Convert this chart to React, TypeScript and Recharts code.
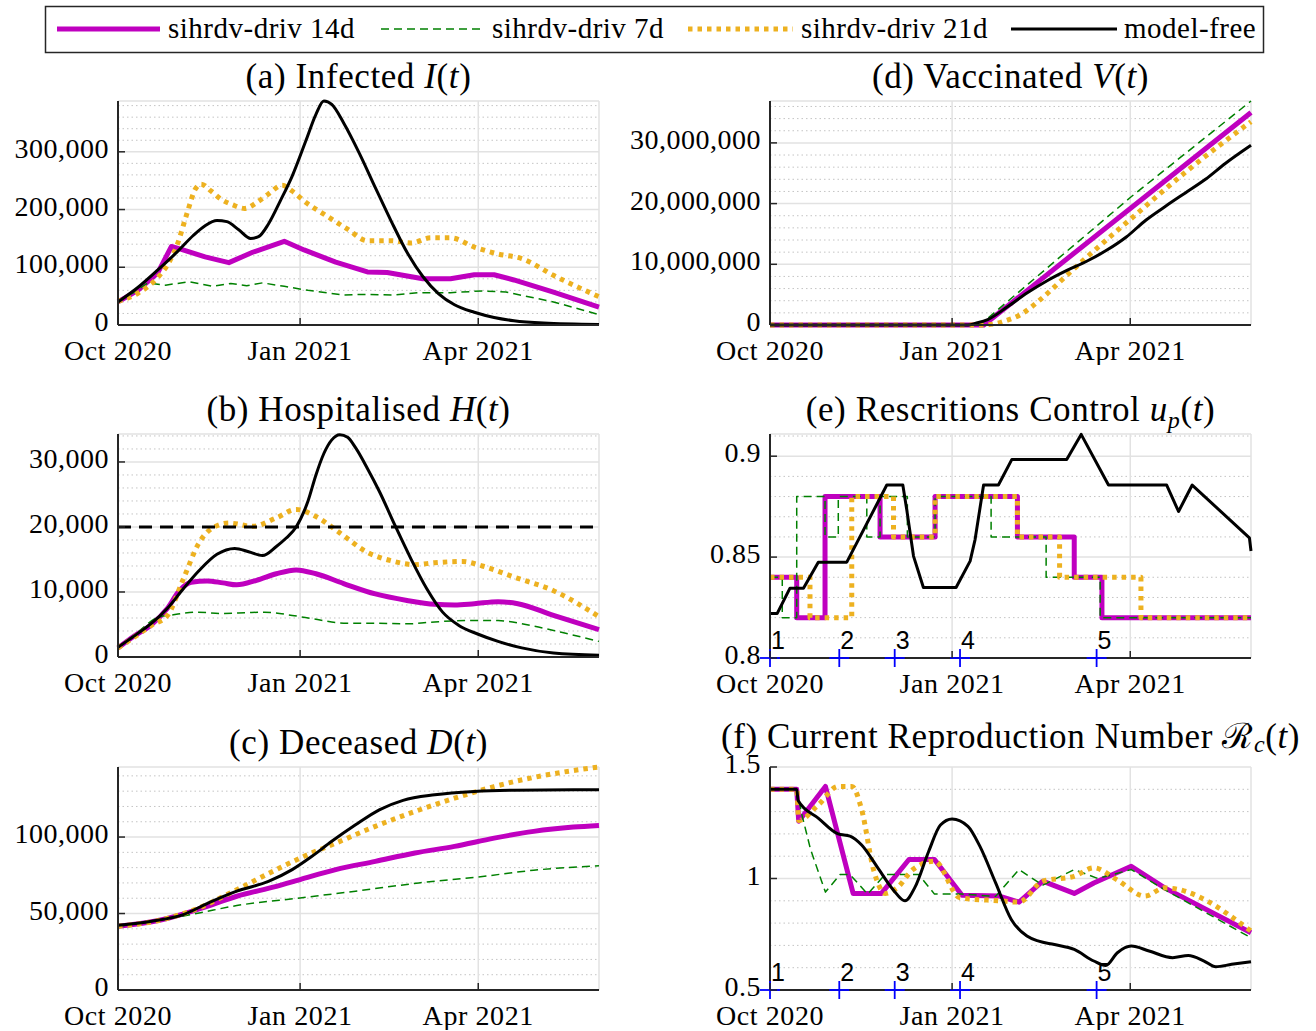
import React from 'react';
import { LineChart, Line, XAxis, YAxis, CartesianGrid, ReferenceLine, ReferenceDot } from 'recharts';

const FONT = "'Liberation Serif', 'Times New Roman', serif";
const SANS = "'Liberation Sans', Arial, sans-serif";
const AXIS = '#262626';

// ---------- shared axis data ----------
const xTickDays = [0, 92, 182];
const xTickLabels = ['Oct 2020', 'Jan 2021', 'Apr 2021'];
const xEndDay = 243;

const legendLabels = ['sihrdv-driv 14d', 'sihrdv-driv 7d', 'sihrdv-driv 21d', 'model-free'];

// ---------- (a) Infected ----------
const infDaysK = [0, 10, 20, 30, 38, 44, 50, 55, 61, 67, 71, 76, 82, 88, 95, 100, 104, 108, 114, 122, 130, 138, 146, 154, 162, 170, 180, 190, 200, 215, 243];
const infK = [40000, 65000, 95000, 127000, 155000, 172000, 181000, 179000, 165000, 150000, 153000, 175000, 215000, 258000, 320000, 365000, 388000, 382000, 350000, 297000, 238000, 180000, 126000, 84000, 54000, 35000, 22000, 13000, 7500, 3500, 1000];
const infDaysM = [0, 10, 20, 27, 32, 44, 56, 68, 84, 94, 110, 126, 136, 154, 168, 180, 190, 200, 220, 243];
const infM = [40000, 60000, 90000, 136000, 131000, 118000, 108000, 126000, 145000, 130000, 109000, 92000, 91000, 80000, 80000, 87000, 87000, 78000, 57000, 31000];
const infDaysO = [0, 10, 20, 26, 30, 35, 39, 42, 47, 52, 58, 64, 70, 76, 83, 88, 95, 104, 116, 126, 138, 148, 158, 168, 180, 192, 204, 220, 243];
const infO = [41000, 55000, 82000, 110000, 140000, 195000, 235000, 244000, 232000, 218000, 208000, 202000, 212000, 227000, 242000, 232000, 212000, 192000, 166000, 146000, 146000, 142000, 151000, 151000, 135000, 123000, 115000, 86000, 49000];
const infDaysG = [0, 8, 15, 24, 36, 48, 57, 65, 73, 84, 96, 114, 124, 140, 152, 168, 184, 196, 220, 243];
const infG = [42000, 56000, 73000, 69000, 75000, 67000, 72000, 68000, 73000, 67000, 60000, 52000, 53000, 52000, 56000, 56000, 59000, 57000, 40000, 18000];
const infTicks = [0, 100000, 200000, 300000];

// ---------- (b) Hospitalised ----------
const hosDaysK = [0, 9, 17, 25, 33, 41, 50, 59, 66, 73, 80, 85, 90, 96, 100, 104, 108, 112, 116, 120, 126, 132, 140, 148, 156, 164, 172, 182, 192, 204, 220, 243];
const hosK = [1500, 3400, 5200, 7500, 10500, 13300, 15800, 16700, 16200, 15600, 17000, 18300, 20000, 24000, 28000, 31300, 33400, 34200, 33800, 32200, 29000, 25500, 20200, 15100, 10500, 6900, 4900, 3500, 2400, 1400, 600, 250];
const hosDaysM = [0, 8, 17, 25, 31, 37, 45, 53, 60, 70, 80, 90, 100, 114, 130, 146, 160, 170, 180, 192, 202, 220, 243];
const hosM = [1400, 3200, 5000, 7500, 10200, 11500, 11700, 11400, 11100, 11800, 12800, 13400, 12800, 11300, 9700, 8700, 8100, 8000, 8200, 8500, 8200, 6400, 4200];
const hosDaysO = [0, 8, 17, 25, 33, 41, 48, 56, 68, 80, 90, 100, 112, 126, 138, 150, 160, 174, 184, 200, 220, 243];
const hosO = [1400, 3000, 4900, 6400, 12000, 17600, 19900, 20600, 20100, 21400, 22700, 21600, 19100, 16100, 14800, 14200, 14500, 14700, 14000, 12300, 10200, 6200];
const hosDaysG = [0, 10, 20, 28, 40, 52, 64, 74, 88, 100, 114, 130, 146, 160, 176, 192, 206, 224, 243];
const hosG = [1400, 3800, 6100, 6500, 6900, 6700, 6800, 6900, 6400, 5800, 5200, 5200, 5100, 5400, 5600, 5600, 5000, 3800, 2400];
const hosTicks = [0, 10000, 20000, 30000];
const hosCapacity = 20000;

// ---------- (c) Deceased ----------
const decDaysK = [0, 17, 33, 45, 60, 76, 88, 98, 108, 120, 132, 144, 160, 180, 200, 243];
const decK = [42400, 45000, 49300, 56500, 64600, 71000, 78700, 87400, 97200, 108000, 117800, 124000, 127600, 129800, 130600, 131000];
const decDaysO = [0, 21, 41, 60, 80, 94, 110, 130, 150, 170, 190, 210, 230, 243];
const decO = [41700, 45600, 53700, 65600, 78700, 87400, 96000, 107000, 116700, 125400, 133000, 139000, 143500, 145800];
const decDaysM = [0, 21, 41, 60, 80, 92, 110, 130, 150, 170, 190, 210, 230, 243];
const decM = [41700, 45600, 53000, 61300, 67800, 72200, 78700, 84100, 89600, 93900, 99300, 103700, 106500, 107600];
const decDaysG = [0, 21, 41, 60, 92, 120, 152, 182, 210, 243];
const decG = [41700, 45600, 50400, 55200, 60200, 64600, 70000, 73900, 78300, 81300];
const decTicks = [0, 50000, 100000];

// ---------- (d) Vaccinated ----------
const vacDaysK = [0, 100, 104, 110, 120, 130, 140, 150, 160, 170, 180, 190, 200, 210, 220, 230, 243];
const vacK = [0, 0, 300000, 900000, 3000000, 5300000, 7300000, 9000000, 10500000, 12300000, 14500000, 17300000, 19600000, 21800000, 24000000, 26600000, 29600000];
const vacDaysM = [0, 108, 243];
const vacM = [0, 0, 35000000];
const vacDaysG = [0, 106, 182, 243];
const vacG = [0, 0, 21000000, 36900000];
const vacDaysO = [0, 108, 115, 120, 126, 137, 150, 165, 182, 210, 243];
const vacO = [0, 0, 300000, 800000, 1600000, 4300000, 8200000, 12600000, 17400000, 25200000, 33500000];
const vacTicks = [0, 10000000, 20000000, 30000000];

// ---------- (e) Restrictions control ----------
const upDaysM = [0, 13.5, 27.8, 55.6, 83.4, 125, 153.7, 167.7, 243];
const upM = [0.84, 0.82, 0.88, 0.86, 0.88, 0.86, 0.84, 0.82, 0.82];
const upDaysO = [0, 20.2, 41.3, 62.4, 83.4, 125, 146.3, 187.4, 243];
const upO = [0.84, 0.82, 0.88, 0.86, 0.88, 0.86, 0.84, 0.82, 0.82];
const upDaysG = [0, 6.2, 13.5, 27.8, 34.5, 48.9, 55.6, 69.4, 83.4, 111.7, 139.5, 166.8, 243];
const upG = [0.84, 0.82, 0.88, 0.86, 0.88, 0.86, 0.88, 0.86, 0.88, 0.86, 0.84, 0.82, 0.82];
const upDaysK = [0, 3.6, 10.1, 16.9, 24.4, 38.8, 59, 67.1, 69.1, 72.5, 77.5, 94, 101.1, 103.6, 107.9, 115.4, 122.2, 149.9, 157.2, 171, 200.4, 206.4, 213.3, 242.2, 243];
const upK = [0.822, 0.822, 0.8346, 0.8346, 0.8475, 0.8475, 0.8857, 0.8857, 0.8734, 0.8505, 0.8349, 0.8349, 0.848, 0.8587, 0.8857, 0.8857, 0.8984, 0.8984, 0.9108, 0.8857, 0.8857, 0.8726, 0.8857, 0.8595, 0.853];
const upTicks = [0.8, 0.85, 0.9];

// ---------- (f) Reproduction number ----------
const rcDaysK = [0, 13.5, 14.2, 24.5, 34.4, 40.4, 46.3, 54.3, 62.2, 68.2, 73.2, 80.1, 86.1, 92, 100, 106, 114, 121.9, 129.8, 135.8, 143.7, 153.7, 163.6, 169.6, 175.5, 182.5, 191.5, 203.4, 211.3, 219.3, 225.2, 233.2, 243];
const rcK = [1.4, 1.4, 1.35, 1.27, 1.2, 1.19, 1.15, 1.05, 0.95, 0.9, 0.96, 1.12, 1.24, 1.267, 1.234, 1.145, 0.98, 0.816, 0.742, 0.719, 0.704, 0.682, 0.63, 0.61, 0.667, 0.697, 0.675, 0.645, 0.655, 0.63, 0.604, 0.615, 0.627];
const rcDaysM = [0, 13.5, 14.5, 28, 42, 56.3, 70.2, 83.1, 97, 115.9, 125.8, 137.8, 153.7, 163.6, 182.5, 199.4, 243];
const rcM = [1.4, 1.4, 1.257, 1.413, 0.933, 0.933, 1.085, 1.085, 0.925, 0.921, 0.894, 0.988, 0.933, 0.98, 1.055, 0.958, 0.757];
const rcDaysO = [0, 13.5, 14.5, 24.5, 34.4, 41.4, 46.3, 52.3, 58.2, 64.2, 72.2, 83.1, 96, 115.9, 125.8, 137.8, 153.7, 163.6, 175.5, 189.4, 199.4, 243];
const rcO = [1.4, 1.4, 1.26, 1.331, 1.413, 1.413, 1.309, 1.04, 0.933, 0.958, 1.04, 1.078, 0.913, 0.9, 0.894, 0.988, 1.01, 1.048, 0.993, 0.921, 0.958, 0.764];
const rcDaysG = [0, 13.5, 16, 20.5, 28, 35.4, 40.4, 49.3, 58.2, 75.1, 83.1, 97, 114, 125.8, 137.8, 153.7, 165.6, 182.5, 199.4, 243];
const rcG = [1.4, 1.4, 1.29, 1.13, 0.939, 1.018, 1.018, 0.93, 1.018, 1.018, 0.93, 0.93, 0.92, 1.04, 0.97, 1.04, 1.0, 1.04, 0.95, 0.734];
const rcTicks = [0.5, 1, 1.5];

// ---------- intervention markers ----------
const markerDays = [0, 35, 63, 96, 165];
const markerLabels = ['1', '2', '3', '4', '5'];

// ---------- helpers ----------
const zip = (days: number[], vals: number[]) => days.map((d, i) => ({ x: d, y: vals[i] }));

const STYLES: any = {
  m: { stroke: '#bf00bf', strokeWidth: 5 },
  g: { stroke: '#008000', strokeWidth: 1.5, strokeDasharray: '8 5' },
  o: { stroke: '#edb120', strokeWidth: 5, strokeDasharray: '4.5 5' },
  k: { stroke: '#000000', strokeWidth: 3 },
};

const comma = (v: number) => v.toLocaleString('en-US');
const plain = (v: number) => String(v);

const renderXTick = (p: any) => {
  const { x, y, payload } = p;
  const idx = xTickDays.indexOf(payload.value);
  const axisY = y - 14;
  return (
    <g>
      <line x1={x} x2={x} y1={axisY} y2={axisY - 7} stroke={AXIS} strokeWidth={1.5} />
      <text x={x} y={axisY + 35} textAnchor="middle" fontFamily={FONT} fontSize={28} letterSpacing={0.6} fill="#000">
        {idx >= 0 ? xTickLabels[idx] : ''}
      </text>
    </g>
  );
};

const makeYTick = (fmt: (v: number) => string) => (p: any) => {
  const { x, y, payload } = p;
  const axisX = x + 9;
  return (
    <g>
      <line x1={axisX} x2={axisX + 7} y1={y} y2={y} stroke={AXIS} strokeWidth={1.5} />
      <text x={x} y={y + 6} textAnchor="end" fontFamily={FONT} fontSize={28} letterSpacing={0.5} fill="#000">
        {fmt(payload.value)}
      </text>
    </g>
  );
};

const TOPPAD = 20;

function Panel(props: any) {
  const { left, width, mLeft, mRight, yWidth, plotTop, plotBottom, domain, ticks, minorStep, fmt, series, children } = props;
  const top = plotTop - TOPPAD;
  const height = plotBottom - plotTop + TOPPAD + 40;
  const minors: number[] = [];
  const n = Math.floor((domain[1] - domain[0]) / minorStep + 1e-6);
  for (let i = 1; i <= n; i++) {
    const v = +(domain[0] + i * minorStep).toFixed(6);
    if (!ticks.some((t: number) => Math.abs(t - v) < minorStep * 0.01)) minors.push(v);
  }
  return (
    <div style={{ position: 'absolute', left, top, width, height }}>
      <LineChart width={width} height={height} margin={{ top: TOPPAD, right: mRight, bottom: 0, left: mLeft }}>
        <CartesianGrid vertical={false} horizontalValues={minors} stroke="#c4c4c4" strokeDasharray="1.5 3" />
        <CartesianGrid stroke="#e2e2e2" strokeWidth={1.5} />
        <XAxis
          type="number"
          dataKey="x"
          domain={[0, xEndDay]}
          ticks={xTickDays}
          interval={0}
          height={40}
          tickSize={0}
          tickMargin={14}
          tickLine={false}
          axisLine={{ stroke: AXIS, strokeWidth: 2 }}
          tick={renderXTick}
        />
        <YAxis
          type="number"
          dataKey="y"
          domain={domain}
          ticks={ticks}
          interval={0}
          width={yWidth}
          tickSize={0}
          tickMargin={9}
          tickLine={false}
          axisLine={{ stroke: AXIS, strokeWidth: 2 }}
          tick={makeYTick(fmt)}
        />
        {series.map((s: any, i: number) => (
          <Line
            key={i}
            data={s.data}
            dataKey="y"
            type={s.type}
            dot={false}
            activeDot={false}
            isAnimationActive={false}
            strokeLinejoin="round"
            {...STYLES[s.kind]}
          />
        ))}
        {children}
      </LineChart>
    </div>
  );
}

const markers = (baseY: number) =>
  markerDays.map((d, i) => (
    <ReferenceDot
      key={'mk' + i}
      x={d}
      y={baseY}
      r={0}
      ifOverflow="visible"
      shape={(p: any) => (
        <g>
          <line x1={p.cx - 10} x2={p.cx + 10} y1={p.cy} y2={p.cy} stroke="#0000ff" strokeWidth={1.8} />
          <line x1={p.cx} x2={p.cx} y1={p.cy - 9} y2={p.cy + 9} stroke="#0000ff" strokeWidth={1.8} />
          <text x={p.cx + 1} y={p.cy - 9} fontFamily={SANS} fontSize={25} fill="#000">
            {markerLabels[i]}
          </text>
        </g>
      )}
    />
  ));

const LEFT = { left: 0, width: 620, mLeft: 8, yWidth: 110, mRight: 21 };
const RIGHT = { left: 600, width: 670, mLeft: 10, yWidth: 160, mRight: 19 };

export default function App() {
  const titleStyle: any = { fontFamily: FONT, fontSize: 35, letterSpacing: 0.6, fill: '#000' };
  const it = (s: string) => <tspan fontStyle="italic">{s}</tspan>;
  return (
    <div style={{ position: 'absolute', left: 0, top: 0, width: 1316, height: 1031, background: '#fff', overflow: 'hidden' }}>
      {/* (a) */}
      <Panel
        {...LEFT}
        plotTop={101}
        plotBottom={325}
        domain={[0, 388000]}
        ticks={infTicks}
        minorStep={20000}
        fmt={comma}
        series={[
          { data: zip(infDaysM, infM), kind: 'm', type: 'linear' },
          { data: zip(infDaysG, infG), kind: 'g', type: 'linear' },
          { data: zip(infDaysO, infO), kind: 'o', type: 'monotone' },
          { data: zip(infDaysK, infK), kind: 'k', type: 'monotone' },
        ]}
      />
      {/* (b) */}
      <Panel
        {...LEFT}
        plotTop={434}
        plotBottom={657}
        domain={[0, 34300]}
        ticks={hosTicks}
        minorStep={2000}
        fmt={comma}
        series={[
          { data: zip(hosDaysM, hosM), kind: 'm', type: 'monotone' },
          { data: zip(hosDaysG, hosG), kind: 'g', type: 'monotone' },
          { data: zip(hosDaysO, hosO), kind: 'o', type: 'monotone' },
          { data: zip(hosDaysK, hosK), kind: 'k', type: 'monotone' },
        ]}
      >
        <ReferenceLine y={hosCapacity} stroke="#000" strokeWidth={3} strokeDasharray="13 8" />
      </Panel>
      {/* (c) */}
      <Panel
        {...LEFT}
        plotTop={767}
        plotBottom={990}
        domain={[0, 145800]}
        ticks={decTicks}
        minorStep={10000}
        fmt={comma}
        series={[
          { data: zip(decDaysM, decM), kind: 'm', type: 'monotone' },
          { data: zip(decDaysG, decG), kind: 'g', type: 'monotone' },
          { data: zip(decDaysO, decO), kind: 'o', type: 'monotone' },
          { data: zip(decDaysK, decK), kind: 'k', type: 'monotone' },
        ]}
      />
      {/* (d) */}
      <Panel
        {...RIGHT}
        plotTop={101}
        plotBottom={325}
        domain={[0, 36900000]}
        ticks={vacTicks}
        minorStep={2000000}
        fmt={comma}
        series={[
          { data: zip(vacDaysM, vacM), kind: 'm', type: 'linear' },
          { data: zip(vacDaysG, vacG), kind: 'g', type: 'linear' },
          { data: zip(vacDaysO, vacO), kind: 'o', type: 'monotone' },
          { data: zip(vacDaysK, vacK), kind: 'k', type: 'monotone' },
        ]}
      />
      {/* (e) */}
      <Panel
        {...RIGHT}
        plotTop={434}
        plotBottom={658}
        domain={[0.8, 0.911]}
        ticks={upTicks}
        minorStep={0.01}
        fmt={plain}
        series={[
          { data: zip(upDaysM, upM), kind: 'm', type: 'stepAfter' },
          { data: zip(upDaysG, upG), kind: 'g', type: 'stepAfter' },
          { data: zip(upDaysO, upO), kind: 'o', type: 'stepAfter' },
          { data: zip(upDaysK, upK), kind: 'k', type: 'linear' },
        ]}
      >
        {markers(0.8)}
      </Panel>
      {/* (f) */}
      <Panel
        {...RIGHT}
        plotTop={767}
        plotBottom={990}
        domain={[0.5, 1.5]}
        ticks={rcTicks}
        minorStep={0.1}
        fmt={plain}
        series={[
          { data: zip(rcDaysM, rcM), kind: 'm', type: 'linear' },
          { data: zip(rcDaysG, rcG), kind: 'g', type: 'linear' },
          { data: zip(rcDaysO, rcO), kind: 'o', type: 'monotone' },
          { data: zip(rcDaysK, rcK), kind: 'k', type: 'monotone' },
        ]}
      >
        {markers(0.5)}
      </Panel>

      {/* legend and titles */}
      <svg width={1316} height={1031} style={{ position: 'absolute', left: 0, top: 0, pointerEvents: 'none' }}>
        <rect x={45.5} y={6.5} width={1218} height={46} fill="#fff" stroke={AXIS} strokeWidth={1.5} />
        <line x1={57} x2={160} y1={29} y2={29} {...STYLES.m} />
        <text x={168} y={38} fontFamily={FONT} fontSize={29} letterSpacing={0.5}>{legendLabels[0]}</text>
        <line x1={381} x2={485} y1={29} y2={29} {...STYLES.g} />
        <text x={492} y={38} fontFamily={FONT} fontSize={29} letterSpacing={0.5}>{legendLabels[1]}</text>
        <line x1={688} x2={793} y1={29} y2={29} {...STYLES.o} />
        <text x={801} y={38} fontFamily={FONT} fontSize={29} letterSpacing={0.5}>{legendLabels[2]}</text>
        <line x1={1011} x2={1117} y1={29} y2={29} {...STYLES.k} />
        <text x={1124} y={38} fontFamily={FONT} fontSize={29} letterSpacing={0.5}>{legendLabels[3]}</text>

        <text x={358.5} y={88} textAnchor="middle" {...titleStyle}>(a) Infected {it('I')}({it('t')})</text>
        <text x={358.5} y={421} textAnchor="middle" {...titleStyle}>(b) Hospitalised {it('H')}({it('t')})</text>
        <text x={358.5} y={754} textAnchor="middle" {...titleStyle}>(c) Deceased {it('D')}({it('t')})</text>
        <text x={1010.5} y={88} textAnchor="middle" {...titleStyle}>(d) Vaccinated {it('V')}({it('t')})</text>
        <text x={1010.5} y={421} textAnchor="middle" {...titleStyle}>
          (e) Rescritions Control {it('u')}
          <tspan fontStyle="italic" fontSize={24} dy={7}>p</tspan>
          <tspan dy={-7}>(</tspan>
          {it('t')})
        </text>
        <text x={1010.5} y={748} textAnchor="middle" {...titleStyle}>
          (f) Current Reproduction Number ℛ
          <tspan fontStyle="italic" fontSize={24} dy={4}>c</tspan>
          <tspan dy={-4}>(</tspan>
          {it('t')})
        </text>
      </svg>
    </div>
  );
}
